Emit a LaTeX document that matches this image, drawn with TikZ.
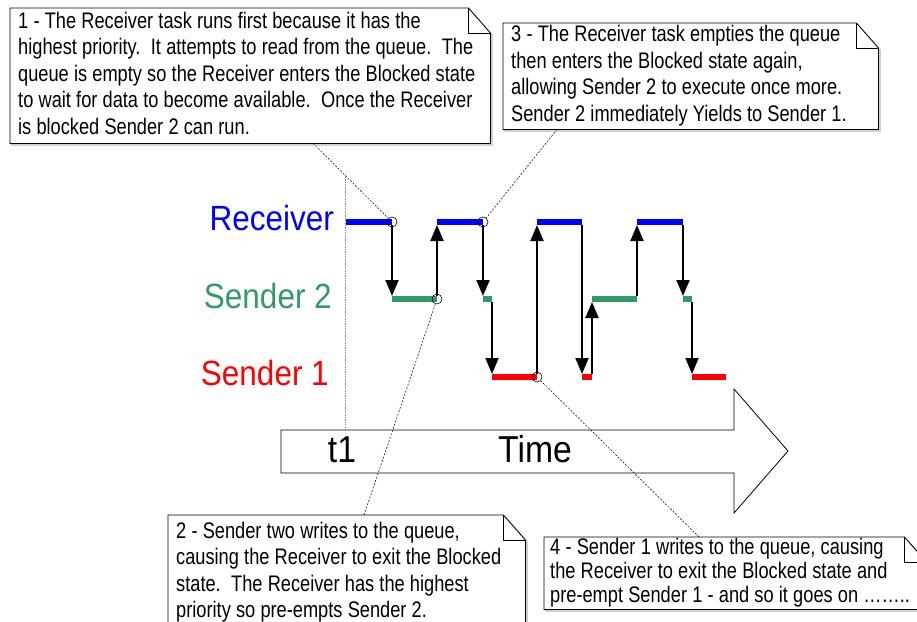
\documentclass[tikz,border=0pt]{standalone}
\usepackage{fontspec}
\usetikzlibrary{arrows.meta,backgrounds}
\setmainfont{Liberation Sans}
\newfontfamily\notefont[FakeStretch=0.81]{Liberation Sans}
\newfontfamily\lanefont[FakeStretch=0.9]{Liberation Sans}
\definecolor{rcvblue}{RGB}{0,0,255}
\definecolor{stwogreen}{RGB}{51,153,102}
\definecolor{sonered}{RGB}{255,0,0}
\newcommand{\notetext}[1]{\spaceskip=5.2pt\relax\begin{tabular}{@{}l@{}}#1\end{tabular}}
\newcommand{\foldpath}[1]{(#1.south west) -- (#1.north west) -- ([xshift=-22pt]#1.north east) -- ([yshift=-25pt]#1.north east) -- (#1.south east) -- cycle}
\newcommand{\foldbox}[1]{%
  \begin{scope}[on background layer]
    \draw[gray!55, line width=1.2pt, transform canvas={shift={(1.5pt,-1.5pt)}}] \foldpath{#1};
    \fill[white] \foldpath{#1};
  \end{scope}
  \draw[line width=0.8pt] \foldpath{#1};
  \draw[line width=0.8pt] ([xshift=-22pt]#1.north east) |- ([yshift=-25pt]#1.north east);}

\begin{document}
\begin{tikzpicture}[x=1pt, y=-1pt,
  bar/.style={line width=6pt},
  hop/.style={line width=2pt, -{Triangle[width=13pt,length=16pt]}, shorten <=3pt, shorten >=3pt},
  ring/.style={circle, draw, line width=0.6pt, minimum size=10pt, inner sep=0pt},
  leader/.style={line width=0.5pt, dash pattern=on 2pt off 1.5pt},
  lane/.style={font=\lanefont\fontsize{35}{40}\selectfont, anchor=base east, inner sep=0pt},
  axis/.style={font=\lanefont\fontsize{37.5}{42}\selectfont, inner sep=0pt},
  note/.style={font=\notefont\fontsize{22.5}{26.5}\selectfont, anchor=north west, inner xsep=8pt, inner ysep=0pt, align=left}]
  \useasboundingbox (0,0) rectangle (917,621);

  % time axis
  \coordinate (tail) at (281,430);
  \draw[line width=0.8pt, fill=white] (tail) -- (734,430) -- (734,389) -- (788,451) -- (734,513) -- (734,473) -- (281,473) -- cycle;
  \node[axis, anchor=base] (t1) at (342,462) {t1};
  \node[axis, anchor=base west] (time) at (498,462) {Time};
  \coordinate (t1top) at (345,177);
  \draw[gray, line width=1pt, dash pattern=on 1.2pt off 1.2pt] (t1top) -- (t1top |- tail);

  % task names
  \node[lane, text=rcvblue] (lrcv) at (334,230) {Receiver};
  \node[lane, text=stwogreen] (lstwo) at (332,308) {Sender 2};
  \node[lane, text=sonered] (lsone) at (329,385) {Sender 1};

  % running slots
  \foreach \n/\a/\b in {rcv1/346/392, rcv2/437/483, rcv3/537/582, rcv4/637/683}{
    \coordinate (\n-s) at (\a,222); \coordinate (\n-e) at (\b,222);
    \draw[bar, rcvblue] (\n-s) -- (\n-e);}
  \foreach \n/\a/\b in {stwo1/392/437, stwo2/483/492, stwo3/592/637, stwo4/683/692}{
    \coordinate (\n-s) at (\a,299); \coordinate (\n-e) at (\b,299);
    \draw[bar, stwogreen] (\n-s) -- (\n-e);}
  \foreach \n/\a/\b in {sone1/492/537, sone2/582/592, sone3/692/726}{
    \coordinate (\n-s) at (\a,377); \coordinate (\n-e) at (\b,377);
    \draw[bar, sonered] (\n-s) -- (\n-e);}

  % task switches
  \foreach \p/\q in {rcv1-e/stwo1-s, stwo1-e/rcv2-s, rcv2-e/stwo2-s, stwo2-e/sone1-s,
                     sone1-e/rcv3-s, rcv3-e/sone2-s, sone2-e/stwo3-s, stwo3-e/rcv4-s,
                     rcv4-e/stwo4-s, stwo4-e/sone3-s}
    \draw[hop] (\p) -- (\q);

  \node[ring] (c1) at (rcv1-e) {};
  \node[ring] (c2) at (stwo1-e) {};
  \node[ring] (c3) at (rcv2-e) {};
  \node[ring] (c4) at (sone1-e) {};

  % callouts
  \node[note, text width=464pt, minimum height=135pt] (note1) at (10,8) {\notetext{%
    1 - The Receiver task runs first because it has the\\
    highest priority.\ \ It attempts to read from the queue.\ \ The\\
    queue is empty so the Receiver enters the Blocked state\\
    to wait for data to become available.\ \ Once the Receiver\\
    is blocked Sender 2 can run.}};
  \foldbox{note1}
  \node[note, text width=359pt, minimum height=105pt] (note3) at (503,23) {\notetext{%
    3 - The Receiver task empties the queue\\
    then enters the Blocked state again,\\
    allowing Sender 2 to execute once more.\\
    Sender 2 immediately Yields to Sender 1.}};
  \foldbox{note3}
  \node[note, text width=341pt, minimum height=115pt] (note2) at (168,515) {\notetext{%
    2 - Sender two writes to the queue,\\
    causing the Receiver to exit the Blocked\\
    state.\ \ The Receiver has the highest\\
    priority so pre-empts Sender 2.}};
  \foldbox{note2}
  \node[note, font=\notefont\fontsize{22.5}{24}\selectfont, inner xsep=6pt, text width=370pt, minimum height=71pt] (note4) at (544,537) {\notetext{%
    4 - Sender 1 writes to the queue, causing\\
    the Receiver to exit the Blocked state and\\
    pre-empt Sender 1 - and so it goes on ……..}};
  \foldbox{note4}

  \draw[leader] ([xshift=303pt]note1.south west) -- (c1);
  \draw[leader] ([xshift=54pt]note3.south west) -- (c3);
  \draw[leader] ([xshift=196pt]note2.north west) -- (c2);
  \draw[leader] ([xshift=155pt]note4.north west) -- (c4);
\end{tikzpicture}
\end{document}
